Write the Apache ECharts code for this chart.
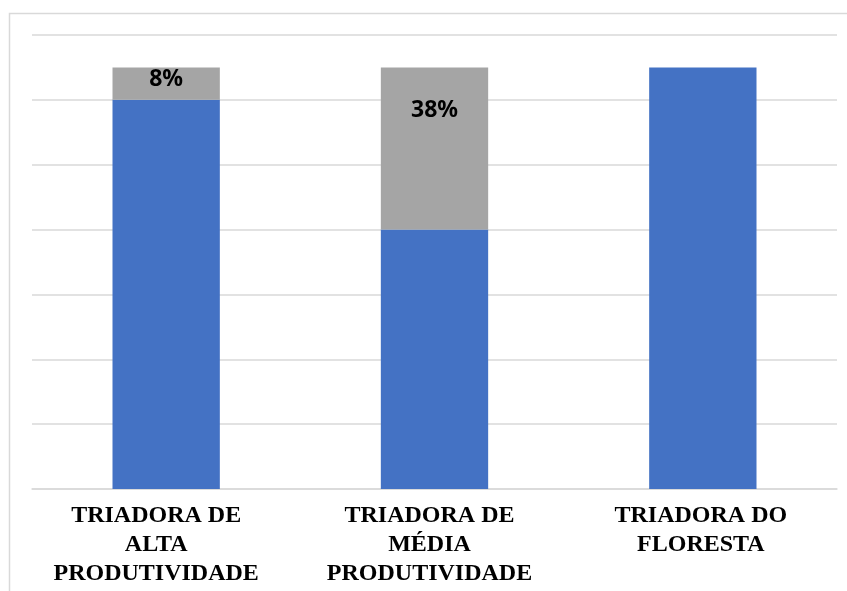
<!DOCTYPE html>
<html>
<head>
<meta charset="utf-8">
<script src="https://cdn.jsdelivr.net/npm/echarts@6/dist/echarts.min.js"></script>
<style>
  html, body { margin: 0; padding: 0; background: #ffffff; }
  #chart { width: 847px; height: 591px; }
</style>
</head>
<body>
<div id="chart"></div>
<script>
// Sorting units and their counts (processed / rejected)
const categories = [
  'TRIADORA DE\nALTA\nPRODUTIVIDADE',
  'TRIADORA DE\nMÉDIA\nPRODUTIVIDADE',
  'TRIADORA DO\nFLORESTA'
];
const blueValues = [12, 8, 13];
const grayValues = [1, 5, 0];

// Placement of the share label inside each gray segment
const labelDistances = [0, 31, 0];
// Right padding that nudges each category name leftwards
const nameShifts = [20, 10, 4];

const chart = echarts.init(document.getElementById('chart'), null, { renderer: 'canvas' });

const grayData = grayValues.map((v, i) => ({
  value: v,
  label: { distance: labelDistances[i] }
}));

const categoryData = categories.map((c, i) => ({
  value: c,
  textStyle: { padding: [0, nameShifts[i], 0, 0] }
}));

chart.setOption({
  animation: false,
  backgroundColor: '#ffffff',
  graphic: [{
    type: 'polyline',
    shape: { points: [[9.5, 591], [9.5, 13.5], [847, 13.5]] },
    style: { stroke: '#d9d9d9', lineWidth: 1.5, fill: null },
    silent: true
  }],
  grid: { left: 32, right: 10, top: 35, bottom: 102 },
  xAxis: {
    type: 'category',
    data: categoryData,
    axisLine: { show: true, lineStyle: { color: '#d9d9d9', width: 1.5 } },
    axisTick: { show: false },
    axisLabel: {
      interval: 0,
      margin: 12,
      color: '#000000',
      fontFamily: '"Liberation Serif", "Times New Roman", serif',
      fontWeight: 'bold',
      fontSize: 24,
      lineHeight: 29,
      align: 'center'
    }
  },
  yAxis: {
    type: 'value',
    min: 0,
    max: 14,
    interval: 2,
    axisLabel: { show: false },
    axisLine: { show: false },
    axisTick: { show: false },
    splitLine: { lineStyle: { color: '#d9d9d9', width: 1.5 } }
  },
  series: [
    {
      name: 'blue',
      type: 'bar',
      stack: 'total',
      barWidth: '40%',
      itemStyle: { color: '#4472C4' },
      data: blueValues
    },
    {
      name: 'gray',
      type: 'bar',
      stack: 'total',
      barWidth: '40%',
      itemStyle: { color: '#A5A5A5' },
      data: grayData,
      label: {
        show: true,
        position: 'insideTop',
        color: '#000000',
        fontFamily: '"Noto Sans", sans-serif',
        fontWeight: 'bold',
        fontSize: 23,
        lineHeight: 24,
        formatter: function (p) {
          const total = blueValues[p.dataIndex] + grayValues[p.dataIndex];
          if (!p.value) return '';
          return Math.round(p.value / total * 100) + '%';
        }
      }
    }
  ]
});
</script>
</body>
</html>
